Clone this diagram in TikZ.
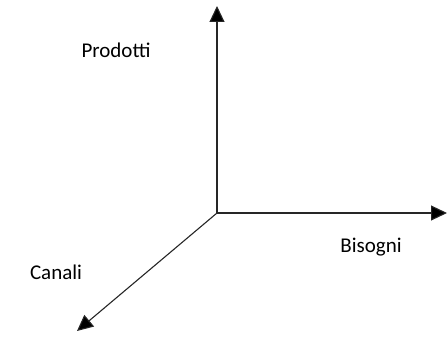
\documentclass[tikz,border=0pt]{standalone}
\usepackage{fontspec}
\setmainfont{Carlito}
\usetikzlibrary{arrows.meta}
\begin{document}
\begin{tikzpicture}[x=1pt,y=-1pt,
  axis/.style={draw=black!85,line width=1.1pt,-{Triangle[length=16pt,width=15pt,fill=black]}},
  lab/.style={font=\fontsize{21}{25}\selectfont,inner sep=0pt}]
\useasboundingbox (0,0) rectangle (448,337);
\coordinate (o) at (217,213);
\coordinate (up) at (217,6);
\coordinate (right) at (447,213);
\coordinate (dl) at (77,331);
\draw[axis] (o) -- (up);
\draw[axis] (o) -- (right);
\draw[axis] (o) -- (dl);
\node[lab] (prodotti) at (116,50) {Prodotti};
\node[lab] (bisogni) at (371,247) {Bisogni};
\node[lab] (canali) at (56,272) {Canali};
\end{tikzpicture}
\end{document}
